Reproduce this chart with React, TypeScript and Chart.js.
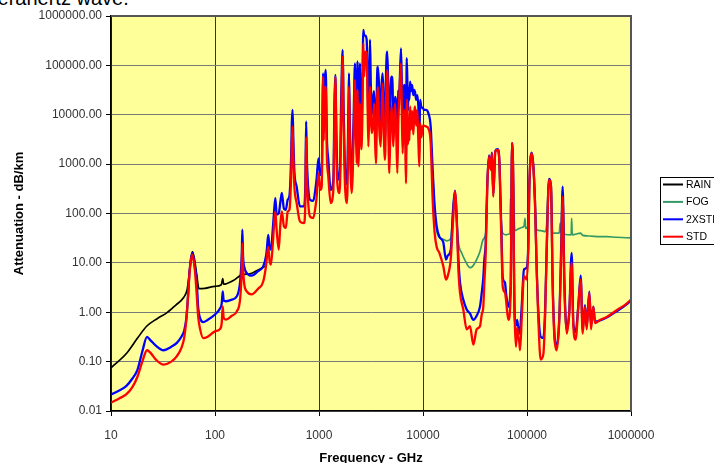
import { useEffect, useRef } from "react";
import { Chart, registerables } from "chart.js";

Chart.register(...registerables);

// ---- labels & ticks ----
const seriesLabels = ["RAIN", "FOG", "2XSTD", "STD"];
const seriesColors = ["#000000", "#339966", "#0000FF", "#FF0000"];
const xTickValues = [10, 100, 1000, 10000, 100000, 1000000];
const yTickValues = [0.01, 0.1, 1, 10, 100, 1000, 10000, 100000, 1000000];
const xAxisTitle = "Frequency - GHz";
const yAxisTitle = "Attenuation - dB/km";

// ---- RAIN (GHz, dB/km) ----
const rainFreq = [10, 14.2, 18, 22, 28, 34.3, 42, 49.5, 54, 57, 60.6, 63, 66.6, 70, 80, 100, 115, 118.75, 121, 150, 183, 217, 260, 302];
const rainValues = [0.075, 0.15, 0.3, 0.52, 0.75, 0.97, 1.4, 1.95, 2.9, 7, 17, 13, 6, 3.0, 3.05, 3.35, 3.6, 4.8, 3.7, 4.4, 5.8, 6.0, 7.2, 8.5];

// ---- FOG ----
const fogFreq = [
  12388, 12950, 13535, 14550, 15670, 17000, 18460, 19560, 20300, 21100,
  21900, 23500, 25500, 28300, 30000, 32800, 35300, 38000, 40100, 41500,
  43100, 44800, 46000, 47400, 49600, 52200, 54100, 55800, 58400, 62800,
  66100, 68500, 69300, 70300, 71800, 73900, 76200, 80000, 88900, 93500,
  95700, 97000, 103000, 105300, 110900, 115000, 119400, 123900, 135300, 150000,
  154500, 162800, 170100, 176500, 204500, 208000, 211000, 220200, 228500, 266000,
  268800, 272000, 328200, 343000, 400000, 500000, 583700, 727800, 1000000,
];
const fogValues = [
  700, 120, 45, 32, 30, 28, 31, 140, 280, 75,
  26, 16, 11, 8, 8.5, 11.6, 17, 30, 40, 350,
  1430, 770, 1660, 220, 1800, 1950, 1220, 119, 40, 37,
  38, 40, 200, 45, 2660, 350, 45, 47, 52, 55,
  80, 50, 60, 350, 1660, 900, 163, 47, 45, 43,
  60, 480, 350, 40, 40, 63, 42, 220, 38, 37,
  80, 37, 40, 36, 35, 34, 34, 33, 32,
];

// ---- STD / 2XSTD, microwave band ----
const microwaveFreq = [
  10, 12, 14, 16, 18, 20, 22.2, 24, 27, 32,
  38, 43, 48, 50.5, 53, 55, 57, 59, 60.5, 62.5,
  64.5, 66.5, 69, 72, 77, 85, 100, 112, 116, 118.75,
  121, 127, 145, 162, 175, 181, 183.3, 186, 192, 202,
  225, 260, 291, 310, 316, 325, 335, 345,
];
const microwaveStd = [
  0.0147, 0.018, 0.0216, 0.03, 0.05, 0.1, 0.17, 0.15, 0.11, 0.087,
  0.1, 0.129, 0.2, 0.3, 0.7, 2.0, 6.5, 12, 14.7, 11,
  6, 2.5, 0.8, 0.45, 0.3, 0.32, 0.41, 0.46, 0.6, 1.32,
  0.78, 0.71, 0.85, 1.04, 2.0, 8, 25, 8, 3.5, 2.65,
  2.3, 3.0, 4.2, 9, 13.5, 21, 11, 9.2,
];
const microwave2x = [
  0.0216, 0.026, 0.032, 0.045, 0.069, 0.16, 0.317, 0.27, 0.21, 0.17,
  0.2, 0.24, 0.33, 0.42, 0.75, 2.1, 7, 13, 15.8, 12,
  7.5, 4.6, 1.2, 0.75, 0.63, 0.7, 0.9, 1.2, 1.5, 2.65,
  1.75, 1.67, 1.8, 2.1, 4.5, 16, 47, 14, 8, 6.2,
  5.5, 6.8, 8.5, 14, 20, 37, 20, 18.5,
];

// ---- sub-millimetre band ----
const submmFreq = [
  360, 370, 380, 392, 410, 425, 439, 460, 480, 500,
  520, 540, 548, 557, 566, 580, 610, 656, 718, 740,
  752, 764, 790, 819, 882, 930, 950, 988, 1030, 1062,
  1097, 1110, 1130, 1160, 1190, 1229,
];
const submmStd = [
  25, 60, 110, 45, 18.5, 60, 110, 55, 51, 110,
  120, 600, 2500, 5800, 1500, 350, 163, 69, 64, 200,
  3500, 600, 150, 87, 81, 150, 220, 660, 300, 350,
  59000, 3000, 20000, 37000, 1500, 560,
];
const submm2x = [
  50, 110, 205, 95, 100, 170, 260, 125, 119, 190,
  230, 1500, 7000, 12600, 3500, 700, 350, 139, 139, 450,
  7300, 1300, 300, 190, 180, 350, 520, 1300, 600, 660,
  69000, 8000, 40000, 81000, 3500, 1220,
];

// ---- terahertz band ----
const thzFreq = [
  1295, 1374, 1410, 1436, 1470, 1501, 1580, 1640, 1690, 1720,
  1766, 1859, 1920, 1943, 1980, 2061, 2150, 2219, 2260, 2302,
  2345, 2389, 2479, 2540, 2600, 2669, 2720, 2790, 2873, 2930,
  2982, 3040, 3094, 3150, 3210, 3300, 3380, 3460, 3532, 3620,
  3680, 3800, 3916, 4000, 4094, 4200, 4312, 4420, 4540, 4640,
  4746, 4870, 4996, 5100, 5184, 5380, 5520, 5664, 5800, 5922,
  6144, 6260, 6376, 6500, 6614, 6750, 6864, 6970, 7070, 7160,
  7260, 7390, 7520, 7667, 7850, 8073, 8230, 8377, 8600, 8820,
  9020, 9220, 9400, 9650, 9927, 10200, 10686, 11254, 11850, 12388,
  12950, 13535, 14360,
];
const thzStd = [
  163, 300, 8000, 59000, 2000, 410, 260, 10000, 150000, 8000,
  560, 163, 6000, 37000, 3000, 260, 3000, 51000, 6000, 1040,
  32000, 900, 17000, 2000, 5000, 280000, 60000, 190000, 180000, 20000,
  2280, 10000, 37000, 10000, 4240, 6000, 17000, 3000, 1040, 20000,
  37000, 5000, 2280, 10000, 43000, 4000, 1220, 20000, 81000, 5000,
  660, 6000, 14700, 5000, 2280, 17000, 5000, 660, 8000, 23000,
  110000, 10000, 1660, 8000, 12600, 3000, 410, 20000, 20000, 2500,
  7900, 3000, 14700, 5000, 12000, 4000, 10800, 14700, 6000, 12600,
  3000, 900, 6700, 3500, 5800, 6000, 5800, 5300, 2700, 190,
  40, 21, 16,
];
const thz2x = [
  300, 480, 20000, 64000, 4000, 770, 480, 30000, 205000, 20000,
  1220, 400, 15000, 69000, 6000, 410, 8000, 110000, 20000, 3000,
  120000, 3000, 110000, 6000, 15000, 520000, 400000, 400000, 330000, 60000,
  6000, 30000, 330000, 40000, 10000, 20000, 30000, 8000, 3000, 60000,
  94000, 30000, 6000, 40000, 69000, 15000, 3000, 80000, 190000, 30000,
  2000, 30000, 59000, 40000, 6000, 23000, 15000, 2000, 30000, 32000,
  220000, 40000, 4000, 30000, 40000, 30000, 1200, 140000, 50000, 12000,
  35000, 20000, 47000, 30000, 40000, 25000, 32000, 29000, 20000, 25000,
  15000, 4000, 20000, 14000, 14000, 12600, 12600, 10800, 5800, 770,
  139, 55, 34,
];

// ---- infrared band ----
const irFreq = [
  15670, 16640, 17270, 18460, 19560, 20300, 21100, 21900, 22700, 24400,
  26300, 28300, 30500, 32800, 35300, 36700, 38000, 38900, 40100, 41500,
  43100, 44800, 46000, 47400, 49600, 52200, 54100, 55800, 57000, 58400,
  61400, 62800, 66100, 69700, 71800, 73900, 75000, 76200, 78400, 80500,
  82500, 84300, 85700, 88900, 93500, 99300, 103000, 105300, 110900, 115000,
  119400, 123900, 128600, 135300, 143500, 148900, 154500, 162800, 170100, 176500,
  183200, 188000, 192800, 204500, 213600, 220200, 228500, 240600, 255200, 268800,
  278900, 293500, 311700, 328200, 343000, 361300, 374900, 397400, 412600, 434200,
  450900, 503600, 583700, 727800, 907900, 1000000,
];
const irStd = [
  8.6, 4.6, 5.4, 11.6, 87, 280, 75, 7.3, 2.46, 1.14,
  0.45, 0.52, 0.22, 0.45, 0.52, 0.9, 1.3, 4, 16, 350,
  1430, 770, 1660, 220, 1800, 1950, 1220, 119, 20, 3.35,
  2.5, 1.8, 0.7, 2.46, 2660, 350, 5, 0.7, 0.2, 0.5,
  0.32, 0.25, 0.17, 0.7, 5.4, 4.6, 21, 350, 1660, 900,
  163, 7.3, 0.7, 0.11, 0.14, 0.7, 16, 480, 350, 3.35,
  0.32, 0.2, 0.17, 0.7, 16, 220, 3.35, 0.37, 0.97, 10,
  0.52, 0.28, 1.3, 4.6, 0.37, 1.3, 0.45, 2.46, 0.45, 1.3,
  0.6, 0.7, 0.8, 1.1, 1.5, 1.8,
];
const ir2x = [
  26, 11.6, 14, 18, 140, 290, 80, 11.6, 4, 1.8,
  1.14, 0.95, 0.7, 0.85, 1.3, 2.46, 5, 11.6, 25, 400,
  1500, 800, 1700, 250, 1850, 2000, 1300, 150, 30, 5,
  4, 2.5, 1.3, 3.5, 2700, 360, 8, 0.8, 0.55, 0.7,
  0.45, 0.37, 0.4, 1.3, 7.3, 8, 25, 360, 1700, 950,
  170, 8, 1, 0.32, 0.3, 0.9, 18, 500, 360, 4,
  0.4, 0.22, 0.22, 0.8, 25, 350, 5, 0.45, 1.1, 16,
  0.6, 0.4, 1.4, 5.5, 0.45, 1.4, 0.5, 2.6, 0.55, 1.3,
  0.65, 0.68, 0.78, 1.05, 1.45, 1.75,
];

const gasFreq = [...microwaveFreq, ...submmFreq, ...thzFreq, ...irFreq];
const stdValues = [...microwaveStd, ...submmStd, ...thzStd, ...irStd];
const x2Values = [...microwave2x, ...submm2x, ...thz2x, ...ir2x];

const toPoints = (xs: number[], ys: number[]) => xs.map((x, i) => ({ x, y: ys[i] }));

const FONT = "'Liberation Sans', Arial, sans-serif";

const plotBgPlugin = {
  id: "plotBg",
  beforeDraw(chart: any) {
    const { ctx, chartArea } = chart;
    ctx.save();
    ctx.fillStyle = "#FFFF99";
    ctx.fillRect(chartArea.left, chartArea.top, chartArea.right - chartArea.left, chartArea.bottom - chartArea.top);
    ctx.restore();
  },
};

const frameLegendPlugin = {
  id: "frameLegend",
  afterDraw(chart: any) {
    const { ctx, chartArea } = chart;
    ctx.save();
    ctx.strokeStyle = "#555555";
    ctx.lineWidth = 2;
    ctx.beginPath();
    ctx.moveTo(chartArea.left, chartArea.top);
    ctx.lineTo(chartArea.right, chartArea.top);
    ctx.lineTo(chartArea.right, chartArea.bottom);
    ctx.stroke();
    const x0 = chartArea.right + 29;
    const y0 = 177;
    ctx.fillStyle = "#FFFFFF";
    ctx.fillRect(x0, y0, 90, 67);
    ctx.strokeStyle = "#000000";
    ctx.lineWidth = 1;
    ctx.strokeRect(x0 + 0.5, y0 + 0.5, 90, 67);
    ctx.font = `10.5px ${FONT}`;
    ctx.textBaseline = "middle";
    ctx.textAlign = "left";
    seriesLabels.forEach((label, i) => {
      const ds = chart.data.datasets.find((d: any) => d.label === label);
      const yy = y0 + 7.5 + i * 17.4;
      ctx.strokeStyle = ds ? ds.borderColor : "#000";
      ctx.lineWidth = 2;
      ctx.beginPath();
      ctx.moveTo(x0 + 3, yy);
      ctx.lineTo(x0 + 23, yy);
      ctx.stroke();
      ctx.fillStyle = "#000000";
      ctx.fillText(label, x0 + 26, yy + 0.5);
    });
    ctx.restore();
  },
};

export default function App() {
  const canvasRef = useRef<HTMLCanvasElement | null>(null);

  useEffect(() => {
    if (!canvasRef.current) return;
    const chart = new Chart(canvasRef.current, {
      type: "line",
      data: {
        datasets: [
          { label: seriesLabels[0], data: toPoints(rainFreq, rainValues), borderColor: seriesColors[0], borderWidth: 1.7, order: 3 },
          { label: seriesLabels[1], data: toPoints(fogFreq, fogValues), borderColor: seriesColors[1], borderWidth: 1.7, order: 2 },
          { label: seriesLabels[2], data: toPoints(gasFreq, x2Values), borderColor: seriesColors[2], borderWidth: 2.3, order: 1 },
          { label: seriesLabels[3], data: toPoints(gasFreq, stdValues), borderColor: seriesColors[3], borderWidth: 2.3, order: 0 },
        ],
      },
      options: {
        animation: false,
        responsive: false,
        devicePixelRatio: 1,
        elements: { point: { radius: 0 }, line: { cubicInterpolationMode: "monotone" } },
        layout: { padding: { left: 0, top: 16, right: 109, bottom: 0 } },
        plugins: { legend: { display: false }, tooltip: { enabled: false } },
        scales: {
          x: {
            type: "logarithmic",
            min: 10,
            max: 1000000,
            afterBuildTicks: (scale: any) => {
              scale.ticks = xTickValues.map((v) => ({ value: v }));
            },
            afterFit: (scale: any) => {
              scale.height = 59;
            },
            ticks: {
              autoSkip: false,
              maxRotation: 0,
              padding: 12,
              color: "#333333",
              font: { family: FONT, size: 12 },
              callback: (v: any) => String(v),
            },
            grid: { color: "#333333", lineWidth: 1, tickLength: 5, tickColor: "#000000" },
            border: { color: "#000000", width: 1.5 },
            title: {
              display: true,
              text: xAxisTitle,
              color: "#000000",
              font: { family: FONT, size: 13, weight: "bold" },
              padding: { top: 0, bottom: 4 },
            },
          },
          y: {
            type: "logarithmic",
            min: 0.01,
            max: 1000000,
            afterBuildTicks: (scale: any) => {
              scale.ticks = yTickValues.map((v) => ({ value: v }));
            },
            afterFit: (scale: any) => {
              scale.width = 111;
            },
            ticks: {
              autoSkip: false,
              padding: 4,
              color: "#333333",
              font: { family: FONT, size: 12 },
              callback: (v: any) => Number(v).toFixed(2),
            },
            grid: { color: "#7a7a7a", lineWidth: 1, tickLength: 5, tickColor: "#000000" },
            border: { color: "#000000", width: 1.5 },
            title: {
              display: true,
              text: yAxisTitle,
              color: "#000000",
              font: { family: FONT, size: 13, weight: "bold" },
              padding: { top: 12, bottom: 0 },
            },
          },
        },
      },
      plugins: [plotBgPlugin, frameLegendPlugin],
    } as any);
    return () => chart.destroy();
  }, []);

  return (
    <div style={{ position: "fixed", left: 0, top: 0, width: 714, height: 463, overflow: "hidden", background: "#ffffff" }}>
      <div
        style={{
          position: "absolute",
          left: -8,
          top: -13,
          font: `20px ${FONT}`,
          color: "#000",
          whiteSpace: "nowrap",
        }}
      >
        terahertz wave.
      </div>
      <canvas ref={canvasRef} width={740} height={470} style={{ position: "absolute", left: 0, top: 0 }} />
    </div>
  );
}
